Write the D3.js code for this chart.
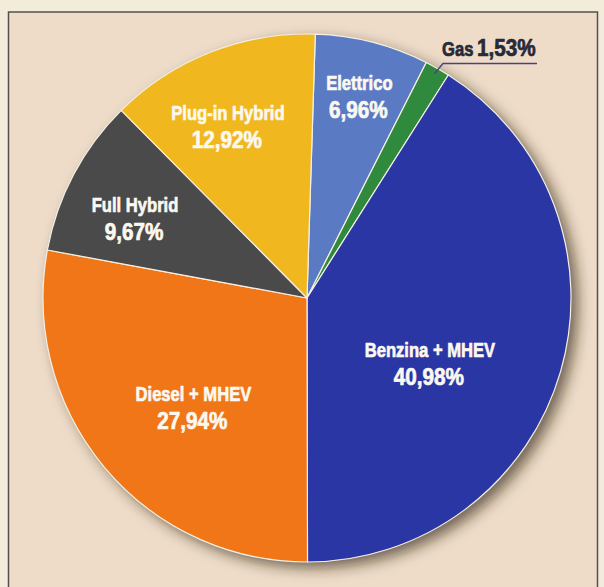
<!DOCTYPE html>
<html>
<head>
<meta charset="utf-8">
<script src="https://cdn.jsdelivr.net/npm/d3@7"></script>
<style>
  html, body { margin: 0; padding: 0; background: #f3ecdb; }
  svg { display: block; }
</style>
</head>
<body>
<svg id="chart" width="604" height="587"></svg>
<script>
// Market share by fuel / powertrain type (%)
const categories = ["Elettrico", "Gas", "Benzina + MHEV", "Diesel + MHEV", "Full Hybrid", "Plug-in Hybrid"];
const shares     = [6.96, 1.53, 40.98, 27.94, 9.67, 12.92];
const colors     = ["#5a7bc4", "#2f8a3d", "#2b36a5", "#f07617", "#4a4a4a", "#f1b71f"];

// Italian number formatting: decimal comma
const it = d3.formatLocale({ decimal: ",", thousands: ".", grouping: [3], currency: ["€", ""] });
const fmt = v => it.format(".2f")(v) + "%";

const W = 604, H = 587;
const cx = 307, cy = 298, R = 264;
const start = 1.8 * Math.PI / 180;

const svg = d3.select("#chart");

// page and framed panel
svg.append("rect").attr("width", W).attr("height", H).attr("fill", "#f3ecdb");
svg.append("rect").attr("x", 8.5).attr("y", 12).attr("width", 589).attr("height", 620)
  .attr("fill", "#eedcc9").attr("stroke", "#505050").attr("stroke-width", 1.5);

const defs = svg.append("defs");
const f = defs.append("filter").attr("id", "shadow")
  .attr("x", "-10%").attr("y", "-10%").attr("width", "125%").attr("height", "125%");
f.append("feDropShadow").attr("dx", 7).attr("dy", 6).attr("stdDeviation", 7)
  .attr("flood-color", "#2e2818").attr("flood-opacity", 0.65);

const data = categories.map((c, i) => ({ name: c, value: shares[i], color: colors[i] }));

const pie = d3.pie().sort(null).value(d => d.value)
  .startAngle(start).endAngle(start + 2 * Math.PI);
const arcs = pie(data);
const arc = d3.arc().innerRadius(0).outerRadius(R);

const g = svg.append("g").attr("transform", `translate(${cx},${cy})`);

// shadow disc beneath the slices
g.append("circle").attr("r", R).attr("fill", "#777").attr("filter", "url(#shadow)");

g.selectAll("path.slice").data(arcs).join("path")
  .attr("class", "slice")
  .attr("d", arc)
  .attr("fill", d => d.data.color)
  .attr("stroke", "#f6f1e4")
  .attr("stroke-width", 1.2)
  .attr("stroke-linejoin", "round");

// polar helper: angle in radians clockwise from 12 o'clock
const polar = (a, r) => [r * Math.sin(a), -r * Math.cos(a)];
const mid = d => (d.startAngle + d.endAngle) / 2;
const deg = Math.PI / 180;

// label placement inside slices: angular shift (deg) and radius fraction
const placement = {
  "Elettrico":      { da: -0.2, k: 0.812 },
  "Benzina + MHEV": { da: 9.4,  k: 0.516 },
  "Diesel + MHEV":  { da: -2.3, k: 0.580 },
  "Full Hybrid":    { da: -1.2, k: 0.729 },
  "Plug-in Hybrid": { da: -2.5, k: 0.738 }
};

const nameFont = "'Liberation Sans', Arial, Helvetica, sans-serif";

// heavy condensed text: bold face squeezed horizontally, thickened with a matching stroke
function heavy(sel, size, sx, fill) {
  return sel.attr("font-family", nameFont).attr("font-weight", 700)
    .attr("font-size", size).attr("fill", fill)
    .attr("stroke", fill).attr("stroke-width", 0.7)
    .attr("stroke-linejoin", "round");
}

const labels = g.selectAll("g.lab")
  .data(arcs.filter(d => placement[d.data.name]))
  .join("g")
  .attr("class", "lab")
  .attr("transform", d => {
    const p = placement[d.data.name];
    const [x, y] = polar(mid(d) + p.da * deg, R * p.k);
    return `translate(${x},${y})`;
  });

heavy(labels.append("text"), 20.5, 0.81, "#fbf8f0")
  .attr("transform", "scale(0.81,1)")
  .attr("text-anchor", "middle")
  .text(d => d.data.name);

heavy(labels.append("text"), 23, 0.9, "#fbf8f0")
  .attr("transform", "translate(-1,28) scale(0.9,1)")
  .attr("text-anchor", "middle")
  .text(d => fmt(d.data.value));

// Gas: small slice, labelled outside with a leader line
const gas = arcs.find(d => d.data.name === "Gas");
const [gx, gy] = polar(mid(gas), R - 6);
const elbow = [443 - cx, 63.5 - cy];
const lineEnd = 537 - cx;
g.append("path")
  .attr("d", `M${gx},${gy}L${elbow[0]},${elbow[1]}H${lineEnd}`)
  .attr("fill", "none").attr("stroke", "#4c4180").attr("stroke-width", 1.4);

const gasLab = g.append("g").attr("transform", `translate(${elbow[0] - 1},${56 - cy})`);
heavy(gasLab.append("text"), 20.5, 0.81, "#272a38")
  .attr("transform", "scale(0.81,1)")
  .text(gas.data.name);
heavy(gasLab.append("text"), 23, 0.9, "#272a38")
  .attr("transform", "translate(35,0) scale(0.9,1)")
  .text(fmt(gas.data.value));
</script>
</body>
</html>
